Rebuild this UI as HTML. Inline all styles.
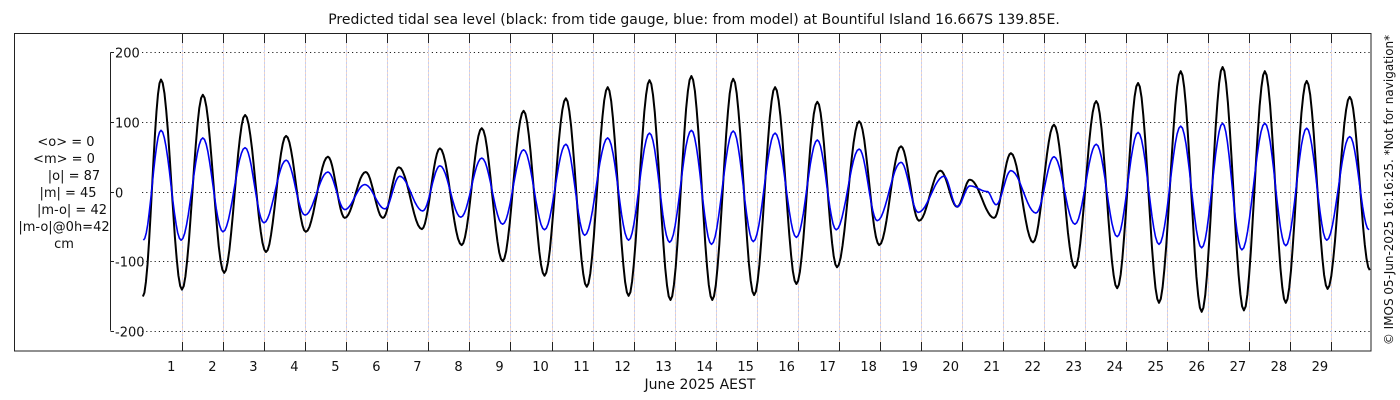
<!DOCTYPE html>
<html><head><meta charset="utf-8">
<style>
html,body{margin:0;padding:0;background:#fff;}
svg{display:block;font-family:"DejaVu Sans","Liberation Sans",sans-serif;}
</style></head>
<body>
<svg id="chart" width="1400" height="400" viewBox="0 0 1400 400" xmlns="http://www.w3.org/2000/svg">
<text x="694" y="24" font-size="14" text-anchor="middle" fill="#111">Predicted tidal sea level (black: from tide gauge, blue: from model) at Bountiful Island 16.667S 139.85E.</text>
<rect x="14.5" y="33.5" width="1356.5" height="317.5" fill="none" stroke="#222" stroke-width="1"/>
<g id="grid"></g>
<g id="yaxis"></g>
<g id="xaxis"></g>
<g id="series"></g>
<g font-size="13" fill="#111" text-anchor="middle">
<text x="66" y="146">&lt;o&gt; = 0</text>
<text x="64" y="163">&lt;m&gt; = 0</text>
<text x="74" y="180">|o| = 87</text>
<text x="68" y="197">|m| = 45</text>
<text x="72" y="214">|m-o| = 42</text>
<text x="64" y="231">|m-o|@0h=42</text>
<text x="64" y="248">cm</text>
</g>
<text x="700" y="389" font-size="14" text-anchor="middle" fill="#111">June 2025 AEST</text>
<text transform="translate(1393,190) rotate(-90)" font-size="12" text-anchor="middle" fill="#111">© IMOS 05-Jun-2025 16:16:25. *Not for navigation*</text>
</svg>
<script>
const dayTicks = [1,2,3,4,5,6,7,8,9,10,11,12,13,14,15,16,17,18,19,20,21,22,23,24,25,26,27,28,29];
const yTicks = [200,100,0,-100,-200];
const obsTimes = [0.04,0.48,0.99,1.50,2.02,2.53,3.04,3.53,4.01,4.55,4.96,5.47,5.89,6.28,6.84,7.28,7.81,8.30,8.81,9.32,9.83,10.35,10.86,11.37,11.88,12.39,12.90,13.41,13.92,14.43,14.94,15.45,15.97,16.48,16.96,17.50,17.99,18.52,18.96,19.48,19.89,20.20,20.79,21.20,21.74,22.25,22.76,23.28,23.79,24.30,24.81,25.34,25.85,26.36,26.88,27.39,27.90,28.41,28.92,29.46,29.95];
const obsValues = [-151,161,-141,139,-117,110,-87,80,-58,50,-38,28,-38,35,-54,62,-77,91,-100,116,-121,134,-137,150,-150,160,-156,166,-156,162,-149,150,-133,129,-109,101,-77,65,-42,30,-22,17,-38,55,-73,96,-110,130,-139,156,-160,173,-173,179,-171,173,-160,159,-140,136,-113];
const modTimes = [0.05,0.48,0.97,1.50,1.99,2.53,2.99,3.53,3.99,4.55,4.96,5.45,5.94,6.30,6.86,7.28,7.79,8.30,8.81,9.32,9.83,10.35,10.81,11.37,11.88,12.39,12.88,13.41,13.90,14.43,14.92,15.45,15.97,16.48,16.94,17.50,17.94,18.52,18.94,19.57,19.89,20.20,20.62,20.84,21.20,21.81,22.25,22.76,23.28,23.79,24.30,24.81,25.34,25.85,26.36,26.83,27.39,27.90,28.41,28.90,29.46,29.93];
const modValues = [-70,88,-70,77,-58,63,-45,45,-34,28,-26,10,-25,22,-28,37,-37,48,-47,60,-55,68,-63,77,-70,84,-73,88,-76,87,-72,84,-66,74,-55,61,-42,42,-30,22,-22,8,0,-19,30,-31,50,-47,68,-65,85,-76,94,-81,98,-84,98,-78,91,-70,79,-55];

const NS = "http://www.w3.org/2000/svg";
const X0 = 141.3, PXD = 41.02;
function xs(day){ return X0 + day*PXD; }
function ys(v){ return 191.5 - v*0.6955; }
function mk(tag, attrs, parent){ const e=document.createElementNS(NS,tag); for(const k in attrs) e.setAttribute(k, attrs[k]); parent.appendChild(e); return e; }

const grid=document.getElementById('grid');
const yax=document.getElementById('yaxis');
const xax=document.getElementById('xaxis');
const ser=document.getElementById('series');

mk('line',{x1:110.5,y1:ys(200),x2:110.5,y2:ys(-200),stroke:'#222','stroke-width':1},yax);
yTicks.forEach(v=>{
  const y=Math.round(ys(v))+0.5;
  const g=mk('line',{x1:142,y1:y,x2:1371,y2:y,stroke:'#222','stroke-width':1,'stroke-dasharray':'1.2,3'},grid);
  
  
  const t=mk('line',{x1:110.5,y1:y,x2:114,y2:y,stroke:'#222'},yax);
  
  
  const l=mk('text',{x:115,y:y+5,'font-size':13,fill:'#111'},yax);
  l.textContent=String(v);
  
  
});
for(let k=1;k<=29;k++){
  const x=Math.round(xs(k))+0.5;
  const g1=mk('line',{x1:x,y1:34,x2:x,y2:350,stroke:'#c4cdf2','stroke-width':1,'stroke-dasharray':'2,2'},grid);
  
  
  const g2=mk('line',{x1:x,y1:36,x2:x,y2:350,stroke:'#f2d6c4','stroke-width':1,'stroke-dasharray':'2,2'},grid);
  
  
  const tb=mk('line',{x1:x,y1:351,x2:x,y2:342,stroke:'#222'},xax);
  
  
  const tt=mk('line',{x1:x,y1:34,x2:x,y2:43,stroke:'#222'},xax);
  
  
}
dayTicks.forEach(d=>{
  const l=mk('text',{x:xs(d)-11,y:371,'font-size':13,fill:'#111','text-anchor':'middle'},xax);
  l.textContent=String(d);
  
  
});
function curve(times, vals){
  const pts=[];
  for(let i=0;i<times.length-1;i++){
    const t0=times[i],t1=times[i+1],v0=vals[i],v1=vals[i+1];
    const n=12;
    for(let j=0;j<n;j++){
      const f=j/n, w=(1-Math.cos(Math.PI*f))/2;
      pts.push(xs(t0+(t1-t0)*f).toFixed(1)+','+ys(v0+(v1-v0)*w).toFixed(1));
    }
  }
  const last=times.length-1;
  pts.push(xs(times[last]).toFixed(1)+','+ys(vals[last]).toFixed(1));
  return pts.join(' ');
}
const obs=mk('polyline',{points:curve(obsTimes,obsValues),fill:'none',stroke:'#000','stroke-width':2,'stroke-linejoin':'round'},ser);


const mod=mk('polyline',{points:curve(modTimes,modValues),fill:'none',stroke:'#0000ee','stroke-width':1.6,'stroke-linejoin':'round'},ser);


</script>
</body></html>
